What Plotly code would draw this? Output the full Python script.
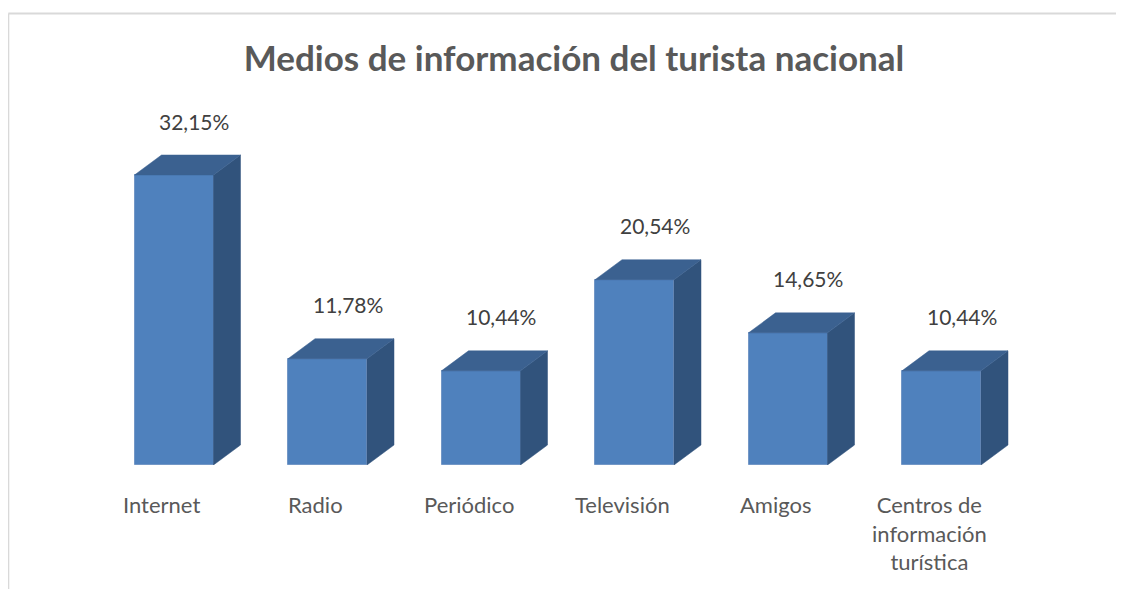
import plotly.graph_objects as go

categories = ["Internet", "Radio", "Periódico", "Televisión", "Amigos",
              "Centros de<br>información<br>turística"]
values = [32.15, 11.78, 10.44, 20.54, 14.65, 10.44]
value_labels = ["32,15%", "11,78%", "10,44%", "20,54%", "14,65%", "10,44%"]
title_text = "Medios de información del turista nacional"

# page is rendered with the default 8px body margin -> work in page pixels
OFF = 8
PAGE_W, PAGE_H = 1124, 589
W = PAGE_W - OFF
H = PAGE_H - OFF

L_PX, R_PX = 40, 1080      # plot area (page px)
T_PX, B_PX = 100, 465
PX_PER_UNIT_X = 153.5
PX_PER_PCT = 9.02
X0_PX = 174                # page pixel of first category front centre

xmin = (L_PX - X0_PX) / PX_PER_UNIT_X
xmax = (R_PX - X0_PX) / PX_PER_UNIT_X
ymax = (B_PX - T_PX) / PX_PER_PCT

bar_w = 79 / PX_PER_UNIT_X
dx = 27 / PX_PER_UNIT_X
dy = 20 / PX_PER_PCT

FRONT = "#4F81BD"
TOP = "#3B6190"
SIDE = "#31537C"

xs = list(range(len(categories)))

fig = go.Figure()
fig.add_trace(go.Bar(x=xs, y=values, width=bar_w,
                     marker=dict(color=FRONT, line=dict(color="#7397C6", width=1)),
                     hoverinfo="skip", showlegend=False))

for xi, v in zip(xs, values):
    x0 = xi - bar_w / 2
    x1 = xi + bar_w / 2
    # side face
    fig.add_trace(go.Scatter(
        x=[x1, x1 + dx, x1 + dx, x1, x1],
        y=[0, dy, v + dy, v, 0],
        fill="toself", fillcolor=SIDE, mode="lines",
        line=dict(color=SIDE, width=0.5), hoverinfo="skip", showlegend=False))
    # top face
    fig.add_trace(go.Scatter(
        x=[x0, x1, x1 + dx, x0 + dx, x0],
        y=[v, v, v + dy, v + dy, v],
        fill="toself", fillcolor=TOP, mode="lines",
        line=dict(color=TOP, width=0.5), hoverinfo="skip", showlegend=False))

annotations = []
for xi, v, lab in zip(xs, values, value_labels):
    annotations.append(dict(x=xi + 20 / PX_PER_UNIT_X, y=v, xref="x", yref="y",
                            text=lab, showarrow=False, yanchor="middle",
                            yshift=54,
                            font=dict(family="Lato", size=21, color="#404040")))
for xi, c in zip(xs, categories):
    annotations.append(dict(x=xi - 12.5 / PX_PER_UNIT_X, y=0, xref="x", yref="y",
                            text=c, showarrow=False, yanchor="top", align="center",
                            yshift=-24,
                            font=dict(family="Lato", size=22, color="#595959")))

fig.update_layout(
    width=W, height=H,
    margin=dict(l=L_PX - OFF, r=PAGE_W - R_PX, t=T_PX - OFF, b=PAGE_H - B_PX, pad=0),
    paper_bgcolor="white", plot_bgcolor="white",
    bargap=0,
    title=dict(text="<b>" + title_text + "</b>", x=(574 - OFF) / W, xref="container",
               y=1 - (57 + 1.5 - OFF) / H, yref="container",
               xanchor="center", yanchor="middle",
               font=dict(family="Lato", size=35, color="#595959")),
    annotations=annotations,
    xaxis=dict(range=[xmin, xmax], visible=False, fixedrange=True),
    yaxis=dict(range=[0, ymax], visible=False, fixedrange=True),
)

# chart frame (light gray border at top and left), page pixel coordinates
fx = lambda px: (px - L_PX) / (R_PX - L_PX)
fy = lambda py: (B_PX - py) / (B_PX - T_PX)
fig.add_shape(type="line", xref="paper", yref="paper",
              x0=fx(8.3), x1=fx(PAGE_W + 5), y0=fy(13.5), y1=fy(13.5),
              line=dict(color="#D9D9D9", width=2))
fig.add_shape(type="line", xref="paper", yref="paper",
              x0=fx(8.3), x1=fx(8.3), y0=fy(13.5), y1=fy(PAGE_H + 5),
              line=dict(color="#D9D9D9", width=2))

fig.write_html("out.html")
